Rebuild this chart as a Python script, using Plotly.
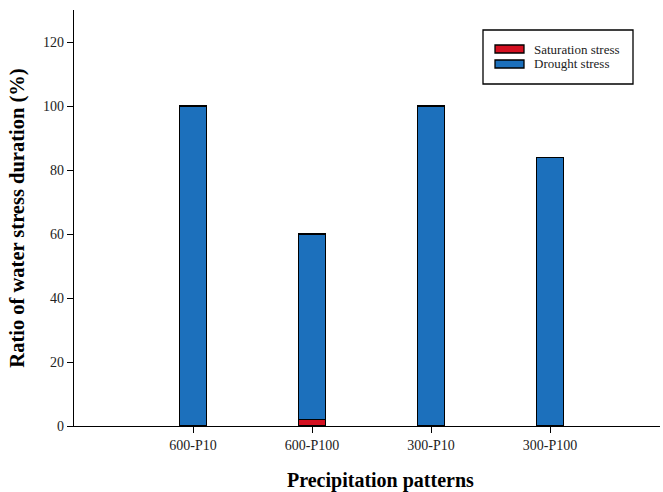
import plotly.graph_objects as go

# Precipitation patterns and stress duration ratios (%)
patterns = ["600-P10", "600-P100", "300-P10", "300-P100"]
saturation_stress = [0, 2, 0, 0]
drought_stress = [100, 58, 100, 84]
y_ticks = [0, 20, 40, 60, 80, 100, 120]

SERIF = "Liberation Serif, Times New Roman, serif"
RED = "rgb(212,16,32)"
BLUE = "rgb(28,112,188)"

series = [("Saturation stress", saturation_stress, RED),
          ("Drought stress", drought_stress, BLUE)]

fig = go.Figure()
for name, values, color in series:
    fig.add_trace(go.Bar(
        x=list(range(len(patterns))), y=values, name=name,
        marker=dict(color=color, line=dict(color="black", width=1.3)), width=0.23,
        showlegend=False,
    ))

# Legend box with wide rectangular swatches (paper coordinates)
W, H = 663, 492
L, R, T, B = 74, 3, 10, 66
pw, ph = W - L - R, H - T - B


def px(x):
    return (x - L) / pw


def py(y):
    return 1 - (y - T) / ph


shapes = [dict(type="rect", xref="paper", yref="paper",
               x0=px(483), x1=px(633), y0=py(84), y1=py(30),
               line=dict(color="black", width=1.3), fillcolor="white", layer="above")]
annotations = []
for i, (name, _, color) in enumerate(series):
    yc = 49 + i * 15
    shapes.append(dict(type="rect", xref="paper", yref="paper",
                       x0=px(495), x1=px(524), y0=py(yc + 4), y1=py(yc - 4),
                       line=dict(color="black", width=1.3), fillcolor=color, layer="above"))
    annotations.append(dict(xref="paper", yref="paper", x=px(532), y=py(yc),
                            xanchor="left", yanchor="middle", text=name, showarrow=False,
                            font=dict(family=SERIF, size=13, color="#222")))

# x-axis title, centred on the full (wider) axis span
annotations.append(dict(xref="paper", yref="paper", x=px(380), y=py(480),
                        xanchor="center", yanchor="middle",
                        text="<b>Precipitation patterns</b>", showarrow=False,
                        font=dict(family=SERIF, size=20, color="black")))

fig.update_layout(
    barmode="stack",
    width=W, height=H,
    margin=dict(l=L, r=R, t=T, b=B),
    plot_bgcolor="white", paper_bgcolor="white",
    font=dict(family=SERIF, color="#222", size=14),
    shapes=shapes, annotations=annotations,
    xaxis=dict(
        range=[-1, 3.924], tickmode="array",
        tickvals=list(range(len(patterns))), ticktext=patterns,
        showline=True, linecolor="black", linewidth=1.3,
        ticks="outside", ticklen=6, tickwidth=1.3, tickcolor="black",
        showgrid=False, zeroline=False,
        tickfont=dict(family=SERIF, size=14, color="#222"),
    ),
    yaxis=dict(
        range=[0, 130], tickmode="array", tickvals=y_ticks,
        showline=True, linecolor="black", linewidth=1.3,
        ticks="outside", ticklen=6, tickwidth=1.3, tickcolor="black",
        showgrid=False, zeroline=False,
        tickfont=dict(family=SERIF, size=14, color="#222"),
        title=dict(text="<b>Ratio of water stress duration (%)</b>",
                   font=dict(family=SERIF, size=20.5, color="black"), standoff=12),
    ),
)

fig.write_html("out.html")
